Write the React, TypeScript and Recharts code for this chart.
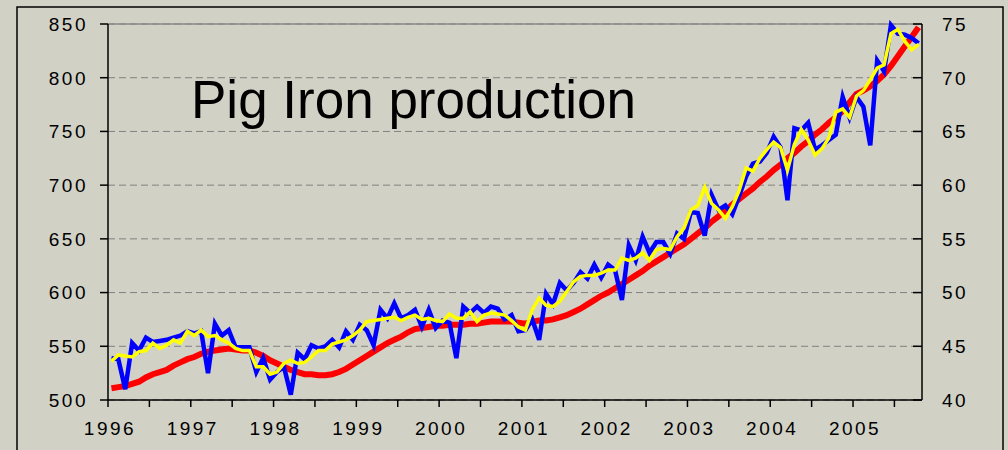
import { LineChart, Line, XAxis, YAxis, CartesianGrid, ReferenceLine } from 'recharts'

// monthly values, Jan 1996 .. Oct 2005
const blueSeries = [
    539, 538, 510, 553, 546, 558, 554, 555, 556, 558,
    560, 564, 562, 564, 525, 571, 560, 565, 549, 549,
    549, 526, 539, 519, 526, 531, 505, 544, 538, 551,
    548, 550, 556, 549, 564, 556, 570, 565, 551, 584,
    576, 590, 576, 579, 584, 568, 584, 567, 574, 572,
    539, 587, 581, 587, 581, 587, 585, 575, 579, 564,
    565, 575, 556, 599, 589, 609, 602, 609, 619, 613,
    626, 614, 626, 621, 593, 644, 630, 652, 637, 647,
    647, 636, 655, 650, 675, 674, 653, 691, 677, 681,
    673, 690, 708, 720, 722, 730, 745, 735, 686, 753,
    751, 758, 733, 737, 742, 747, 782, 763, 782, 773,
    737, 816, 806, 849, 841, 840, 837, 832,
]

const yellowSeries = [
    536, 542, 541, 540, 545, 546, 553, 548, 551, 556,
    553, 564, 560, 565, 559, 560, 556, 553, 548, 546,
    546, 531, 531, 524, 526, 534, 537, 534, 535, 540,
    546, 546, 552, 554, 556, 560, 565, 573, 574, 575,
    576, 577, 574, 577, 579, 575, 576, 574, 573, 580,
    576, 576, 582, 573, 579, 581, 580, 579, 574, 568,
    565, 584, 595, 588, 587, 592, 601, 610, 615, 616,
    616, 618, 621, 621, 632, 630, 632, 637, 630, 640,
    641, 640, 652, 660, 677, 681, 698, 683, 677, 669,
    680, 695, 716, 713, 725, 733, 740, 735, 714, 738,
    752, 742, 728, 734, 744, 768, 771, 763, 783, 788,
    798, 809, 812, 841, 845, 834, 826, 831,
]

const redSeries = [
    511, 512, 513, 515, 517, 521, 524, 526, 528, 532,
    535, 538, 540, 543, 545, 546, 547, 548, 547, 546,
    546, 544, 541, 537, 534, 531, 528, 526, 524, 524,
    523, 523, 524, 526, 529, 533, 537, 541, 545, 549,
    553, 556, 559, 563, 566, 567, 568, 569, 569, 570,
    570, 570, 571, 571, 572, 573, 573, 573, 573, 572,
    571, 573, 574, 574, 575, 577, 579, 582, 585, 589,
    593, 597, 600, 604, 608, 612, 616, 620, 625, 629,
    633, 637, 641, 645, 650, 655, 660, 666, 671, 676,
    682, 687, 692, 697, 703, 708, 714, 719, 725, 730,
    736, 741, 747, 752, 758, 763, 769, 777, 785, 788,
    792, 797, 803, 811, 820, 829, 838, 847,
]

const firstYear = 1996
const monthTicks = [0, 6, 12, 18, 24, 30, 36, 42, 48, 54, 60, 66, 72, 78, 84, 90, 96, 102, 108, 114]
const leftTicks = [500, 550, 600, 650, 700, 750, 800, 850]
const rightTicks = [40, 45, 50, 55, 60, 65, 70, 75]

const data = blueSeries.map((b, i) => ({
    t: i + 0.5,
    blue: b,
    yellow: yellowSeries[i],
    red: redSeries[i],
}))

const font = 'Liberation Sans, Arial, sans-serif'
const tickText = { fontFamily: font, fontSize: 19, letterSpacing: 2.5, fill: '#000' }

function LeftTick({ x, y, payload }: any) {
    return (
        <text x={x} y={y} dy="0.36em" textAnchor="end" style={tickText}>
            {payload.value}
        </text>
    )
}

function RightTick({ x, y, payload }: any) {
    return (
        <g>
            <line x1={x - 29} x2={x - 20} y1={y} y2={y} stroke="#000" strokeWidth={1.5} />
            <text x={x} y={y} dy="0.36em" textAnchor="start" style={tickText}>
                {payload.value}
            </text>
        </g>
    )
}

function YearTick({ x, y, payload }: any) {
    if (payload.value % 12 !== 0) return <g />
    return (
        <text x={x + 2} y={y} dy="0.71em" textAnchor="middle" style={tickText}>
            {firstYear + payload.value / 12}
        </text>
    )
}

export default function App() {
    return (
        <div style={{ position: 'relative', width: 1008, height: 450, background: '#d1d1c6' }}>
            <style>{'body{margin:0}'}</style>
            <LineChart width={1008} height={450} data={data} margin={{ top: 24, right: 0, bottom: 0, left: 0 }}>
                <CartesianGrid yAxisId="left" vertical={false} stroke="#808080" strokeDasharray="7 4" />
                <XAxis
                    dataKey="t"
                    type="number"
                    domain={[0, 118]}
                    ticks={monthTicks}
                    interval={0}
                    height={50}
                    tickSize={7}
                    tickMargin={15}
                    tick={<YearTick />}
                    axisLine={{ stroke: '#000', strokeWidth: 1.5 }}
                    tickLine={{ stroke: '#000', strokeWidth: 1.5 }}
                />
                <YAxis
                    yAxisId="left"
                    domain={[500, 850]}
                    ticks={leftTicks}
                    interval={0}
                    width={108}
                    tickSize={8}
                    tickMargin={12}
                    tick={<LeftTick />}
                    axisLine={{ stroke: '#000', strokeWidth: 1.5 }}
                    tickLine={{ stroke: '#000', strokeWidth: 1.5 }}
                />
                <YAxis
                    yAxisId="right"
                    orientation="right"
                    domain={[40, 75]}
                    ticks={rightTicks}
                    interval={0}
                    allowDataOverflow
                    width={86}
                    tickSize={0}
                    tickMargin={20}
                    tick={<RightTick />}
                    tickLine={false}
                    axisLine={{ stroke: '#000', strokeWidth: 1.5 }}
                />
                <ReferenceLine yAxisId="left" y={850} stroke="#8a8a86" strokeWidth={1.5} />
                <Line yAxisId="left" dataKey="red" stroke="#ff0000" strokeWidth={6} dot={false} isAnimationActive={false} />
                <Line yAxisId="left" dataKey="blue" stroke="#0000ff" strokeWidth={4.5} dot={false} isAnimationActive={false} />
                <Line yAxisId="left" dataKey="yellow" stroke="#ffff00" strokeWidth={3.5} dot={false} isAnimationActive={false} />
            </LineChart>
            <svg width={1008} height={450} style={{ position: 'absolute', left: 0, top: 0, pointerEvents: 'none' }}>
                <rect x={17} y={7} width={986} height={460} fill="none" stroke="#000" strokeWidth={1.5} />
                <text x={191} y={118} style={{ fontFamily: font, fontSize: 53, fill: '#000' }}>
                    Pig Iron production
                </text>
            </svg>
        </div>
    )
}
